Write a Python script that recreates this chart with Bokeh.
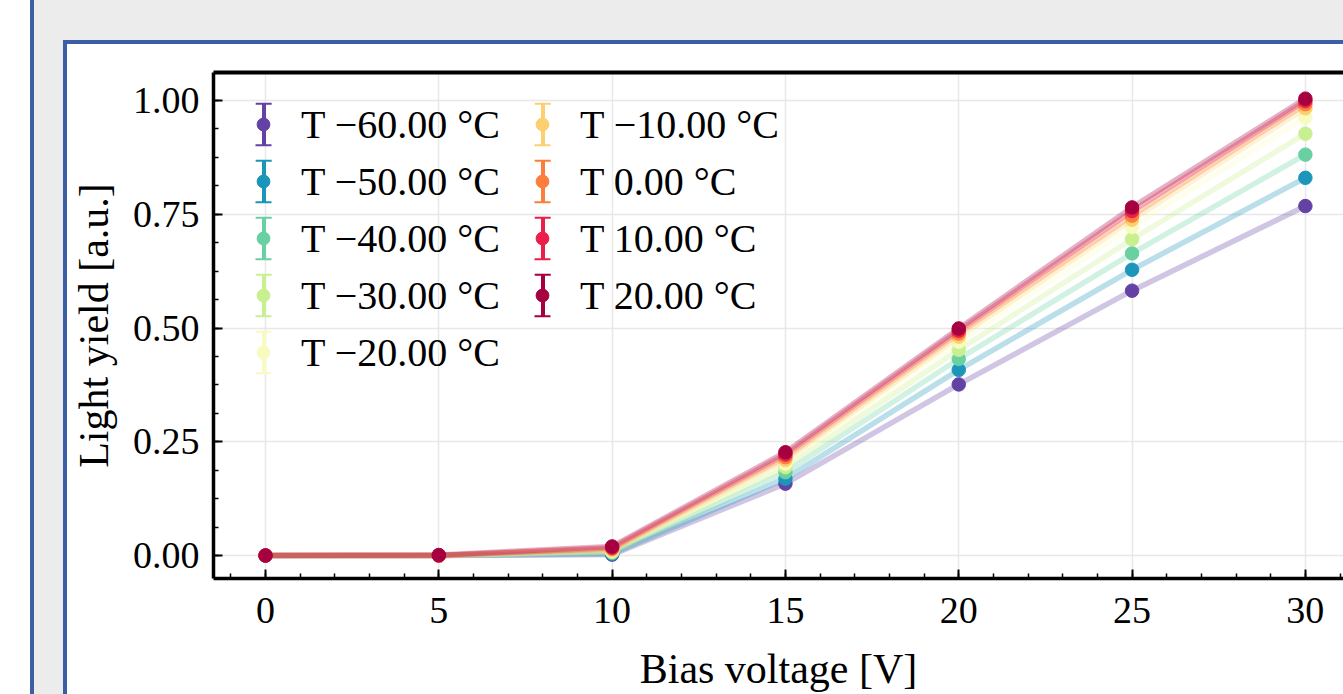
import numpy as np
from bokeh.plotting import figure
from bokeh.layouts import row, column
from bokeh.models import (Range1d, LinearAxis, FixedTicker, Legend, LegendItem,
                          ColumnDataSource, SingleIntervalTicker,
                          NumeralTickFormatter, Div)
from bokeh.embed import file_html
from bokeh.resources import INLINE

# ---------------- data ----------------
bias_voltage = [0, 5, 10, 15, 20, 25, 30]
temperatures = [-60, -50, -40, -30, -20, -10, 0, 10, 20]
series_labels = ["T \u221260.00 \u00b0C", "T \u221250.00 \u00b0C", "T \u221240.00 \u00b0C",
                 "T \u221230.00 \u00b0C", "T \u221220.00 \u00b0C", "T \u221210.00 \u00b0C",
                 "T 0.00 \u00b0C", "T 10.00 \u00b0C", "T 20.00 \u00b0C"]
ly_m60 = [0.0, 0.0, 0.002, 0.158, 0.376, 0.582, 0.768]
ly_m50 = [0.0, 0.0, 0.004, 0.169, 0.408, 0.628, 0.830]
ly_m40 = [0.0, 0.0, 0.006, 0.183, 0.432, 0.664, 0.881]
ly_m30 = [0.0, 0.0, 0.008, 0.194, 0.452, 0.695, 0.927]
ly_m20 = [0.0, 0.0, 0.010, 0.202, 0.470, 0.722, 0.963]
ly_m10 = [0.0, 0.0, 0.012, 0.210, 0.481, 0.738, 0.983]
ly_p00 = [0.0, 0.0, 0.015, 0.216, 0.488, 0.747, 0.992]
ly_p10 = [0.0, 0.0, 0.017, 0.222, 0.494, 0.757, 0.999]
ly_p20 = [0.0, 0.001, 0.020, 0.227, 0.499, 0.765, 1.004]
light_yield = [ly_m60, ly_m50, ly_m40, ly_m30, ly_m20, ly_m10, ly_p00, ly_p10, ly_p20]
colors = ["#6442a5", "#1c95bb", "#68d0a1", "#c9f08e", "#f8fbbf",
          "#fdcf70", "#fc7e3c", "#ec1f4a", "#a60040"]

FONT = "Liberation Serif"
GREY = "#ececec"
BLUE = "#3a5fa6"

p = figure(width=1276, height=650, output_backend="svg", toolbar_location=None,
           x_range=Range1d(-1.5, 31.1), y_range=Range1d(-0.0505, 1.0615),
           min_border_left=146, min_border_right=0, min_border_top=28,
           min_border_bottom=116, tools=[], margin=0)
p.background_fill_color = "white"
p.border_fill_color = "white"
p.outline_line_color = None

# grid
for g in (p.xgrid, p.ygrid):
    g.grid_line_color = "#e8e8e8"
    g.grid_line_width = 1.5

# axes
p.xaxis.ticker = SingleIntervalTicker(interval=5, num_minor_ticks=5)
p.yaxis.ticker = SingleIntervalTicker(interval=0.25, num_minor_ticks=4)
p.yaxis.formatter = NumeralTickFormatter(format="0.00")
for ax in (p.xaxis[0], p.yaxis[0]):
    ax.axis_line_width = 3.5
    ax.axis_line_color = "black"
    ax.major_tick_in = 9
    ax.major_tick_out = 0
    ax.minor_tick_in = 5
    ax.minor_tick_out = 0
    ax.major_tick_line_width = 2
    ax.minor_tick_line_width = 1.5
    ax.major_tick_line_color = "black"
    ax.minor_tick_line_color = "black"
    ax.major_label_text_font = FONT
    ax.major_label_text_font_size = "38px"
    ax.major_label_text_color = "black"
    ax.axis_label_text_font = FONT
    ax.axis_label_text_font_size = "42px"
    ax.axis_label_text_font_style = "normal"
    ax.axis_label_text_color = "black"
p.xaxis.axis_label = "Bias voltage [V]"
p.yaxis.axis_label = "Light yield [a.u.]"
p.xaxis.major_label_standoff = 19
p.yaxis.major_label_standoff = 14
p.xaxis.axis_label_standoff = 20
p.yaxis.axis_label_standoff = 13

top_axis = LinearAxis(ticker=FixedTicker(ticks=[]), axis_line_width=4,
                      axis_line_color="black", major_tick_line_color=None,
                      minor_tick_line_color=None)
p.add_layout(top_axis, "above")

# data
scatters = []
for ys, c in zip(light_yield, colors):
    p.line(bias_voltage, ys, line_color=c, line_alpha=0.3, line_width=5.5)
    r = p.scatter(bias_voltage, ys, size=13.5, fill_color=c, line_color=c, line_width=1)
    scatters.append(r)

# legend proxies (no visible data in the plot)
proxy = ColumnDataSource(data=dict(l=np.array([np.nan]), r=np.array([np.nan]),
                                   t=np.array([np.nan]), b=np.array([np.nan])))
bars, caps = [], []
for c in colors:
    bars.append(p.quad(left="l", right="r", top="t", bottom="b", source=proxy,
                       fill_color=c, line_color=None))
    caps.append(p.quad(left="l", right="r", top="t", bottom="b", source=proxy,
                       fill_color=None, line_color=c, line_width=2,
                       line_dash="0 5 16 46"))

leg_a = Legend(items=[LegendItem(label="", renderers=[b]) for b in bars],
               location=(47.5, 200), nrows=5, glyph_width=5, glyph_height=52,
               label_standoff=22, label_width=247, spacing=5, padding=10,
               background_fill_alpha=0, border_line_color=None,
               label_text_font=FONT, label_text_font_size="40px")
leg_b = Legend(items=[LegendItem(label=lab, renderers=[cp, sc])
                      for lab, cp, sc in zip(series_labels, caps, scatters)],
               location=(34, 200), nrows=5, glyph_width=32, glyph_height=52,
               label_standoff=22, label_width=220, spacing=5, padding=10,
               background_fill_alpha=0, border_line_color=None,
               label_text_font=FONT, label_text_font_size="40px",
               label_text_color="black")
p.add_layout(leg_a, "center")
p.add_layout(leg_b, "center")

# page decoration (grey page, blue frame lines)
left_strip = Div(text="", width=67, height=694, margin=0, styles={
    "background": f"linear-gradient({GREY}, {GREY}), "
                  f"linear-gradient(to right, white 0px, white 30px, {BLUE} 30px, "
                  f"{BLUE} 34px, {GREY} 34px, {GREY} 63px, {BLUE} 63px, {BLUE} 67px)",
    "background-size": "33px 40px, 67px 694px",
    "background-position": "34px 0px, 0px 0px",
    "background-repeat": "no-repeat"})
top_strip = Div(text="", width=1276, height=44, margin=0, styles={
    "background": f"linear-gradient(to bottom, {GREY} 0px, {GREY} 40px, {BLUE} 40px, {BLUE} 44px)"})

page = row(left_strip, column(top_strip, p, spacing=0),
           spacing=0, width=1343, height=694)

open("out.html", "w").write(file_html(page, INLINE))
